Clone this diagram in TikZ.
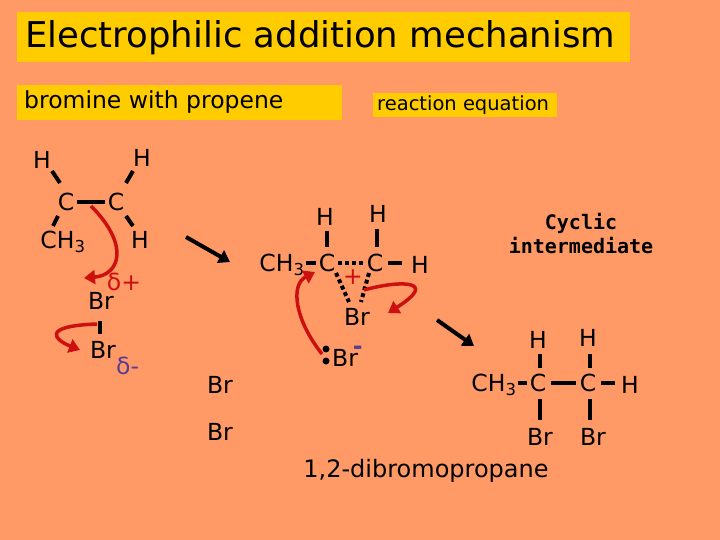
\documentclass[tikz,border=0pt]{standalone}
\usepackage{fontspec}
\setmainfont{DejaVu Sans}
\newfontfamily\monob{DejaVu Sans Mono}
\usetikzlibrary{arrows.meta}
\definecolor{bg}{HTML}{FF9A66}
\definecolor{ybox}{HTML}{FFCC00}
\definecolor{arr}{HTML}{CC1010}
\definecolor{neg}{HTML}{5A3C96}
\tikzset{
 atom/.style={inner sep=0pt,font=\fontsize{23.5}{23.5}\selectfont},
 bond/.style={line width=4pt},
 dbond/.style={line width=4pt,dash pattern=on 4pt off 3pt},
 ra/.style={draw=arr,line width=3.5pt,-{Triangle[length=11pt,width=14pt]}},
 ka/.style={line width=4pt,-{Triangle[length=11pt,width=14pt]}},
}
\begin{document}
\begin{tikzpicture}[x=1pt,y=-1pt]
\fill[bg] (0,0) rectangle (720,540);
\useasboundingbox (0,0) rectangle (720,540);
\fill[ybox] (17,12) rectangle (630,62);
\node[anchor=west,inner sep=0pt,font=\fontsize{35.5}{35.5}\selectfont] (title) at (25,38) {Electrophilic addition mechanism};
\fill[ybox] (17,85) rectangle (342,120);
\node[anchor=west,inner sep=0pt,font=\fontsize{23.5}{23.5}\selectfont] (sub1) at (24,102) {bromine with propene};
\fill[ybox] (373,93) rectangle (557,117);
\node[anchor=west,inner sep=0pt,font=\fontsize{19.5}{19.5}\selectfont] (sub2) at (377,105) {reaction equation};
% left molecule
\node[atom] (h1) at (42,160) {H};
\node[atom] (h2) at (142,158) {H};
\node[atom] (c1) at (66,202) {C};
\node[atom] (c2) at (116,202) {C};
\node[atom] (me) at (63,242) {CH\textsubscript{3}};
\node[atom] (h3) at (140,240) {H};
\draw[bond] ([xshift=3pt]c1.east) -- ([xshift=-3pt]c2.west);
\draw[bond] (52,171) -- (60,183);
\draw[bond] (133,171) -- (126,183);
\draw[bond] (58,216) -- (53,226);
\draw[bond] (126,216) -- (133,226);
\node[atom,text=arr] (dp) at (124,282) {δ+};
\node[atom] (br1) at (101,301) {Br};
\draw[bond] (100,321) -- (100,334);
\node[atom] (br2) at (103,350) {Br};
\node[atom,text=neg,anchor=west] (dm) at (116,366) {δ-};
\coordinate (a1s) at (91,206);
\coordinate (a1e) at (84,278);
\draw[ra] (a1s) .. controls (130,245) and (120,275) .. (a1e);
\coordinate (a2s) at (97,324);
\coordinate (a2e) at (80,350);
\draw[ra] (a2s) .. controls (40,326) and (55,340) .. (a2e);
\coordinate (k1s) at (186,237);
\coordinate (k1e) at (230,262);
\draw[ka] (k1s) -- (k1e);
% middle
\node[atom] (mh1) at (325,217) {H};
\node[atom] (mh2) at (378,214) {H};
\node[atom] (mme) at (282,265) {CH\textsubscript{3}};
\node[atom] (mc1) at (327,263) {C};
\node[atom] (mc2) at (375,263) {C};
\node[atom] (mh3) at (420,265) {H};
\draw[bond] (306,263) -- (316,263);
\draw[bond] (327,231) -- (327,247);
\draw[bond] (377,229) -- (377,247);
\draw[bond] (388,263) -- (402,263);
\draw[dbond] (338,263) -- (363,263);
\draw[dbond] (336,273) -- (349,302);
\draw[dbond] (369,273) -- (361,302);
\node[atom] (mbr) at (357,317) {Br};
\node[atom,text=arr] (plus) at (353,277) {+};
\node[atom,anchor=west] (bm) at (332,356) {Br\kern-5pt\raisebox{12pt}{\textcolor{neg}{\bfseries -}}};
\fill (326,349) circle (3.5pt) (326,361) circle (3.5pt);
\coordinate (a3s) at (322,354);
\coordinate (a3e) at (315,272);
\draw[ra] (a3s) .. controls (295,320) and (290,285) .. (a3e);
\coordinate (a4s) at (364,290);
\coordinate (a4e) at (388,313);
\draw[ra] (a4s) .. controls (400,280) and (440,280) .. (a4e);
\coordinate (k2s) at (437,320);
\coordinate (k2e) at (474,346);
\draw[ka] (k2s) -- (k2e);
\node[atom] (b1) at (220,385) {Br};
\node[atom] (b2) at (220,432) {Br};
\node[align=center,inner sep=0pt,font=\monob\bfseries\fontsize{20}{24}\selectfont] (cyc) at (581,234) {Cyclic\\intermediate};
% product
\node[atom] (ph1) at (538,340) {H};
\node[atom] (ph2) at (588,338) {H};
\node[atom] (pme) at (494,385) {CH\textsubscript{3}};
\node[atom] (pc1) at (538,383) {C};
\node[atom] (pc2) at (588,383) {C};
\node[atom] (ph3) at (630,385) {H};
\node[atom] (pb1) at (540,437) {Br};
\node[atom] (pb2) at (593,437) {Br};
\draw[bond] (540,354) -- (540,368);
\draw[bond] (590,354) -- (590,368);
\draw[bond] (518,383) -- (527,383);
\draw[bond] (551,383) -- (576,383);
\draw[bond] (601,383) -- (615,383);
\draw[bond] (540,399) -- (540,420);
\draw[bond] (590,399) -- (590,420);
\node[inner sep=0pt,font=\fontsize{24}{24}\selectfont] (name) at (426,471) {1,2-dibromopropane};
\end{tikzpicture}
\end{document}
